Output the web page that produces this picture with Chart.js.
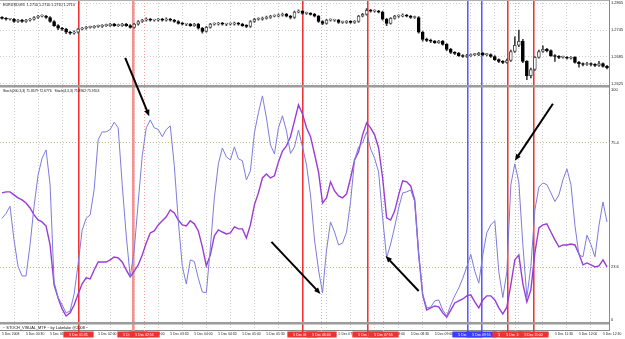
<!DOCTYPE html>
<html>
<head>
<meta charset="utf-8">
<script src="https://cdn.jsdelivr.net/npm/chart.js@4.4.1/dist/chart.umd.min.js"></script>
<style>
html, body { margin: 0; padding: 0; background: #fff; }
#wrap { width: 625px; height: 339px; }
</style>
</head>
<body>
<div id="wrap"><canvas id="eurusd-chart" width="625" height="339"></canvas></div>
<script>
// ==== EURUSD M5 candles (bar 0 = 5 Dec 00:00) ====
var opens = [1.2773,1.2771,1.2769,1.2769,1.2764,1.2767,1.2764,1.2767,1.2769,1.2773,
  1.2776,1.2776,1.2773,1.2764,1.2755,1.2749,1.2747,1.2740,1.2738,1.2740,
  1.2747,1.2749,1.2751,1.2751,1.2753,1.2753,1.2755,1.2755,1.2758,1.2755,
  1.2755,1.2758,1.2755,1.2751,1.2758,1.2764,1.2767,1.2769,1.2767,1.2767,
  1.2769,1.2767,1.2769,1.2767,1.2764,1.2760,1.2758,1.2758,1.2755,1.2758,
  1.2749,1.2742,1.2751,1.2758,1.2758,1.2760,1.2758,1.2758,1.2758,1.2760,
  1.2758,1.2755,1.2753,1.2764,1.2769,1.2769,1.2771,1.2773,1.2776,1.2776,
  1.2778,1.2780,1.2776,1.2773,1.2785,1.2787,1.2782,1.2782,1.2780,1.2776,
  1.2764,1.2760,1.2767,1.2767,1.2767,1.2762,1.2762,1.2764,1.2762,1.2764,
  1.2776,1.2780,1.2789,1.2787,1.2787,1.2785,1.2769,1.2760,1.2771,1.2776,
  1.2776,1.2778,1.2776,1.2773,1.2773,1.2740,1.2724,1.2722,1.2720,1.2717,
  1.2720,1.2713,1.2702,1.2695,1.2693,1.2688,1.2686,1.2688,1.2690,1.2690,
  1.2693,1.2690,1.2690,1.2686,1.2679,1.2675,1.2673,1.2677,1.2697,1.2711,
  1.2720,1.2675,1.2643,1.2657,1.2684,1.2697,1.2702,1.2699,1.2688,1.2686,
  1.2684,1.2684,1.2682,1.2684,1.2673,1.2670,1.2668,1.2670,1.2668,1.2666,
  1.2670,1.2664];
var closes = [1.2771,1.2769,1.2769,1.2764,1.2767,1.2764,1.2767,1.2769,1.2773,1.2776,
  1.2776,1.2773,1.2764,1.2755,1.2749,1.2747,1.2740,1.2738,1.2740,1.2747,
  1.2749,1.2751,1.2751,1.2753,1.2753,1.2755,1.2755,1.2758,1.2755,1.2755,
  1.2758,1.2755,1.2751,1.2758,1.2764,1.2767,1.2769,1.2767,1.2767,1.2769,
  1.2767,1.2769,1.2767,1.2764,1.2760,1.2758,1.2758,1.2755,1.2758,1.2749,
  1.2742,1.2751,1.2758,1.2758,1.2760,1.2758,1.2758,1.2758,1.2760,1.2758,
  1.2755,1.2753,1.2764,1.2769,1.2769,1.2771,1.2773,1.2776,1.2776,1.2778,
  1.2780,1.2776,1.2773,1.2785,1.2787,1.2782,1.2782,1.2780,1.2776,1.2764,
  1.2760,1.2767,1.2767,1.2767,1.2762,1.2762,1.2764,1.2762,1.2764,1.2776,
  1.2780,1.2789,1.2787,1.2787,1.2785,1.2769,1.2760,1.2771,1.2776,1.2776,
  1.2778,1.2776,1.2773,1.2773,1.2740,1.2724,1.2722,1.2720,1.2717,1.2720,
  1.2713,1.2702,1.2695,1.2693,1.2688,1.2686,1.2688,1.2690,1.2690,1.2693,
  1.2690,1.2690,1.2686,1.2679,1.2675,1.2673,1.2677,1.2697,1.2711,1.2720,
  1.2675,1.2643,1.2657,1.2684,1.2697,1.2702,1.2699,1.2688,1.2686,1.2684,
  1.2684,1.2682,1.2684,1.2673,1.2670,1.2668,1.2670,1.2668,1.2666,1.2670,
  1.2664,1.2661];
var highs = [1.2775,1.2773,1.2771,1.2771,1.2769,1.2769,1.2769,1.2771,1.2775,1.2778,
  1.2779,1.2778,1.2775,1.2766,1.2757,1.2751,1.2749,1.2742,1.2743,1.2749,
  1.2751,1.2753,1.2754,1.2755,1.2756,1.2757,1.2758,1.2760,1.2760,1.2758,
  1.2760,1.2760,1.2757,1.2760,1.2766,1.2769,1.2772,1.2771,1.2769,1.2771,
  1.2771,1.2772,1.2771,1.2769,1.2766,1.2762,1.2760,1.2760,1.2760,1.2760,
  1.2751,1.2753,1.2760,1.2761,1.2762,1.2762,1.2760,1.2761,1.2763,1.2762,
  1.2760,1.2757,1.2766,1.2771,1.2772,1.2774,1.2776,1.2778,1.2779,1.2781,
  1.2783,1.2782,1.2778,1.2787,1.2790,1.2789,1.2785,1.2784,1.2782,1.2778,
  1.2766,1.2769,1.2770,1.2769,1.2769,1.2765,1.2766,1.2766,1.2766,1.2778,
  1.2782,1.2793,1.2791,1.2790,1.2789,1.2787,1.2771,1.2773,1.2778,1.2779,
  1.2781,1.2780,1.2778,1.2776,1.2775,1.2742,1.2727,1.2725,1.2722,1.2722,
  1.2722,1.2715,1.2704,1.2697,1.2695,1.2690,1.2691,1.2692,1.2693,1.2695,
  1.2695,1.2693,1.2692,1.2688,1.2681,1.2677,1.2680,1.2700,1.2730,1.2745,
  1.2724,1.2677,1.2660,1.2686,1.2700,1.2710,1.2704,1.2701,1.2690,1.2688,
  1.2687,1.2686,1.2686,1.2686,1.2675,1.2672,1.2673,1.2672,1.2670,1.2675,
  1.2672,1.2666];
var lows = [1.2769,1.2767,1.2767,1.2762,1.2762,1.2762,1.2762,1.2765,1.2767,1.2771,
  1.2774,1.2771,1.2762,1.2753,1.2746,1.2744,1.2737,1.2735,1.2736,1.2738,
  1.2745,1.2747,1.2749,1.2749,1.2751,1.2751,1.2753,1.2753,1.2753,1.2753,
  1.2753,1.2753,1.2749,1.2749,1.2756,1.2762,1.2765,1.2765,1.2765,1.2765,
  1.2765,1.2765,1.2765,1.2762,1.2758,1.2756,1.2755,1.2753,1.2753,1.2747,
  1.2738,1.2740,1.2749,1.2756,1.2756,1.2756,1.2755,1.2756,1.2756,1.2756,
  1.2753,1.2750,1.2751,1.2762,1.2767,1.2767,1.2769,1.2771,1.2774,1.2774,
  1.2776,1.2774,1.2770,1.2771,1.2783,1.2780,1.2780,1.2778,1.2774,1.2762,
  1.2757,1.2758,1.2765,1.2764,1.2760,1.2760,1.2760,1.2760,1.2760,1.2762,
  1.2774,1.2778,1.2785,1.2785,1.2783,1.2767,1.2755,1.2758,1.2769,1.2773,
  1.2774,1.2774,1.2771,1.2771,1.2738,1.2720,1.2719,1.2717,1.2715,1.2715,
  1.2711,1.2699,1.2692,1.2690,1.2686,1.2684,1.2684,1.2686,1.2688,1.2688,
  1.2688,1.2687,1.2684,1.2677,1.2672,1.2670,1.2671,1.2675,1.2695,1.2708,
  1.2672,1.2634,1.2638,1.2655,1.2682,1.2695,1.2696,1.2686,1.2675,1.2681,
  1.2682,1.2680,1.2680,1.2671,1.2662,1.2665,1.2666,1.2665,1.2663,1.2664,
  1.2662,1.2658];

// ==== STOCH_VISUAL_MTF lines, one value per bar ====
var stochMain = [44,46,49,35,24,20,20,33,49,62,
  69,72.5,58,17.5,11,8,4.6,5.4,12.5,25,
  39,44,45.4,56,76.7,80,80,81,84,81.7,
  58,37,19.6,30.8,50.8,70,81.7,85,81.7,81,
  78,81,82.5,66,43,24,16.7,26.7,26,19,
  13.3,13,31.7,52.5,66.7,73.3,69.6,68.3,73.75,68.75,
  68,60,63.75,79.6,88,95,85.8,74.6,70.8,81.7,
  86.7,80.4,71,73.75,80.8,73.75,66.25,53.75,35,22.5,
  13,30.8,42.5,38.3,32.9,33.75,38.3,51,68.3,73.75,
  75.4,80,72.9,69,63.3,44.2,27.5,33.3,40.4,48.3,
  54.6,55,55.8,51,29,12.5,6.7,7,9.6,10,
  5.8,3.3,7.9,11.7,15,19,23.75,29,22,17,
  28.75,38,41.25,43,21.7,11,21.7,58,66.7,59,
  33,11,24,47.5,57,58.75,58,54.6,51,53.75,
  60,64.6,58,41,28.75,28,37,33,28,41,
  50.8,42.5];
var stochSignal = [54.6,55,55,53.75,52.5,51.7,50.4,48.3,45.4,43.3,
  42.5,40.8,32.9,16.25,10.8,6.25,3.3,4.6,7.9,12.5,
  16.7,19.2,18.75,22.5,25.8,25.8,25.8,26.7,27.9,27.5,
  25.8,22.5,19.6,22,24.6,28.75,33.75,37.9,38.75,41.25,
  43,44.6,47.5,46.25,43.3,41.25,40.8,43,41.7,38.75,
  32.1,24.2,28.75,36.7,39.2,38.3,37.5,37.9,40.4,39.6,
  39.6,35.8,41.25,49.6,54.6,60.8,62.5,60.8,61.7,67.5,
  72,74.2,78,84.6,91.25,87.5,81.7,78,70.8,63.3,
  50.4,52.5,59.2,55.4,53.3,52.5,54.2,60.8,68.3,71.7,
  78.75,83.75,81.7,78.75,73.3,60.8,44.2,43.3,47,53.75,
  59.6,59.2,57.5,51.7,29,12,5.8,6.7,7.5,7.1,
  4.6,2.9,5.8,8.75,9.6,10.4,11.7,12.1,9.2,6.7,
  10,11.7,11.7,10,6.7,4.2,7,16.25,26.7,28.75,
  16.7,9.2,14.2,29.6,40,41.25,41.7,38.3,35,32.1,
  32.9,32.9,33.3,32.9,29.2,24.6,25.4,24.6,23.75,24.2,
  26.7,23.75];

// ==== axis ticks ====
var priceTicks = [1.2805, 1.2775, 1.2745, 1.2715, 1.2685, 1.2655, 1.2625];
var stochLevels = [100, 75.4, 23.6, 0];
var stochLevelLabels = ['100', '75.4', '23.6', '0'];
var timeTickBars = [0,6,12,18,24,30,36,42,48,54,60,66,72,78,84,90,96,102,108,114,120,126,132,138,144,150];
var timeLabels = ['5 Dec 2008','5 Dec 00:30','5 Dec 01:00','5 Dec 01:30','5 Dec 02:00','5 Dec 02:30',
  '5 Dec 03:00','5 Dec 03:30','5 Dec 04:00','5 Dec 04:30','5 Dec 05:00','5 Dec 05:30',
  '5 Dec 06:00','5 Dec 06:30','5 Dec 07:00','5 Dec 07:30','5 Dec 08:00','5 Dec 08:30',
  '5 Dec 09:00','5 Dec 09:30','5 Dec 10:00','5 Dec 10:30','5 Dec 11:00','5 Dec 11:30',
  '5 Dec 12:00','5 Dec 12:30'];

// ==== vertical line objects and arrows ====
var vlineBars = [19, 32.5, 35.5, 75, 79.5, 91, 95, 116, 119.5, 126, 128, 132.5];
var vlineKinds = ['red','pink','dot','red','dot','red','dot','blue','blue','red','dot','red'];
var vlineTimes = ['5 Dec 01:35','5 Dec 02:40','5 Dec 02:55','5 Dec 06:15','5 Dec 06:40','5 Dec 07:35',
  '5 Dec 07:55','5 Dec 09:40','5 Dec 09:55','5 Dec 10:30','5 Dec 10:40','5 Dec 11:00'];
// arrows: [bar, stoch value] tail -> head
var arrowTails = [[30.75, 110.8], [67.25, 34.2], [104, 13.75], [137.5, 91.7]];
var arrowHeads = [[36.75, 86.5], [79.5, 12.5], [95.75, 28.3], [128, 68]];

var tinyFont = 'Liberation Sans, Arial, sans-serif';

var lineColors = { red: 'rgb(240,50,50)', pink: 'rgb(247,144,144)', dot: 'rgb(244,160,160)', blue: 'rgb(90,90,255)' };

function drawArrow(c, x1, y1, x2, y2) {
    var ang = Math.atan2(y2 - y1, x2 - x1), head = 7;
    c.beginPath();
    c.moveTo(x1, y1);
    c.lineTo(x2 - Math.cos(ang) * head * 0.7, y2 - Math.sin(ang) * head * 0.7);
    c.stroke();
    c.beginPath();
    c.moveTo(x2, y2);
    c.lineTo(x2 - head * Math.cos(ang - 0.4), y2 - head * Math.sin(ang - 0.4));
    c.lineTo(x2 - head * Math.cos(ang + 0.4), y2 - head * Math.sin(ang + 0.4));
    c.closePath();
    c.fill();
}

function drawObjectLines(chart) {
    var c = chart.ctx, x = chart.scales.x, area = chart.chartArea;
    var bottom = x.top + 4;
    c.save();
    vlineBars.forEach(function (b, i) {
        var kind = vlineKinds[i];
        var px = Math.round(x.getPixelForValue(b));
        c.fillStyle = lineColors[kind];
        if (kind === 'dot') {
            for (var y = area.top; y < bottom; y += 3) {
                c.fillRect(px, y, 1, 1);
            }
        } else {
            c.globalAlpha = 1;
            c.fillRect(px, area.top, kind === 'pink' ? 2 : 1, bottom - area.top);
            c.globalAlpha = 0.55;
            c.fillRect(px + (kind === 'pink' ? 2 : 1), area.top, 1, bottom - area.top);
            c.globalAlpha = 1;
        }
    });
    c.restore();
}

// ==== MT4 look: panes, objects, texts ====
var terminalPlugin = {
    id: 'terminal',
    beforeDraw: function (chart) {
        var c = chart.ctx;
        c.save();
        c.fillStyle = '#fff';
        c.fillRect(0, 0, chart.width, chart.height);
        c.restore();
    },
    beforeDatasetsDraw: function (chart) {
        drawObjectLines(chart);
    },
    afterDatasetsDraw: function (chart) {
        var c = chart.ctx, area = chart.chartArea, s = chart.scales;
        c.save();
        // pane separators
        c.fillStyle = '#9c9c9c';
        c.fillRect(area.left, s.price.bottom - 1.5, area.right - area.left, 2.5);
        c.fillRect(area.left, s.stoch.bottom - 1, area.right - area.left, 2.5);
        c.fillStyle = '#b0b0b0';
        c.fillRect(area.left, area.top, area.right - area.left, 1);
        // pane captions
        c.fillStyle = '#111';
        c.textBaseline = 'middle';
        c.font = '3.7px ' + tinyFont;
        c.fillText('EURUSD,M5  1.2710 1.2710 1.2710 1.2710', area.left + 3, s.price.top + 5);
        c.font = '3.4px ' + tinyFont;
        c.fillText('Stoch(200,3,3) 71.8579 72.6776   Stoch(4,3,3) 75.8962 75.9553', area.left + 3, s.stoch.top + 5);
        c.font = '3.9px ' + tinyFont;
        c.fillText('~ STOCH_VISUAL_MTF ~ by Lukelake @2008 ~', area.left + 3, (s.info.top + s.info.bottom) / 2 + 1);
        // arrows
        c.strokeStyle = '#000';
        c.fillStyle = '#000';
        c.lineWidth = 2;
        arrowTails.forEach(function (t, i) {
            var h = arrowHeads[i];
            drawArrow(c, s.x.getPixelForValue(t[0]), s.stoch.getPixelForValue(t[1]),
                s.x.getPixelForValue(h[0]), s.stoch.getPixelForValue(h[1]));
        });
        c.restore();
    },
    afterDraw: function (chart) {
        // object time tags on the time axis
        var c = chart.ctx, x = chart.scales.x;
        c.save();
        c.font = '3.4px ' + tinyFont;
        c.textBaseline = 'middle';
        c.textAlign = 'center';
        vlineBars.forEach(function (b, i) {
            var px = Math.round(x.getPixelForValue(b)) + 0.5;
            var w = c.measureText(vlineTimes[i]).width + 12;
            c.fillStyle = vlineKinds[i] === 'blue' ? '#3c3cff' : '#ea3434';
            c.fillRect(px - w / 2, x.top + 1.5, w, 6);
            c.fillStyle = '#fff';
            c.fillText(vlineTimes[i], px, x.top + 4.6);
        });
        c.restore();
    }
};

var wCanvas = document.getElementById('eurusd-chart').getContext('2d');

var eurusdChart = new Chart(wCanvas, {
    type: 'bar',
    data: {
        datasets: [{
            type: 'line',
            label: 'Stoch main',
            yAxisID: 'stoch',
            data: stochMain.map(function (v, i) { return { x: i, y: v }; }),
            borderColor: '#7c7cde',
            borderWidth: 1,
            pointRadius: 0,
            tension: 0,
            order: 0
        }, {
            type: 'line',
            label: 'Stoch signal',
            yAxisID: 'stoch',
            data: stochSignal.map(function (v, i) { return { x: i, y: v }; }),
            borderColor: '#9b3bd8',
            borderWidth: 1.4,
            pointRadius: 0,
            tension: 0,
            order: 0
        }, {
            label: 'Body',
            yAxisID: 'price',
            data: closes.map(function (c, i) { return { x: i, y: [opens[i], c] }; }),
            backgroundColor: function (ctx) {
                var i = ctx.dataIndex;
                return closes[i] >= opens[i] ? '#ffffff' : '#000000';
            },
            borderColor: function (ctx) {
                var i = ctx.dataIndex;
                return closes[i] >= opens[i] ? '#555555' : '#000000';
            },
            borderWidth: 1,
            borderSkipped: false,
            barThickness: 3,
            minBarLength: 1,
            grouped: false,
            order: 1
        }, {
            label: 'Wick',
            yAxisID: 'price',
            data: lows.map(function (l, i) { return { x: i, y: [l, highs[i]] }; }),
            backgroundColor: '#404040',
            borderWidth: 0,
            barThickness: 1,
            grouped: false,
            order: 2
        }]
    },
    options: {
        responsive: false,
        animation: false,
        events: [],
        layout: { padding: 0 },
        plugins: { legend: { display: false }, tooltip: { enabled: false } },
        scales: {
            price: {
                axis: 'y',
                type: 'linear',
                position: 'right',
                stack: 'panes',
                stackWeight: 86.5,
                min: 1.2619,
                max: 1.2812,
                grid: { color: '#cdcdcd', drawTicks: false },
                border: { display: true, color: '#8a8a8a', dash: [1, 2] },
                afterBuildTicks: function (scale) {
                    scale.ticks = priceTicks.map(function (v) { return { value: v }; });
                },
                afterFit: function (scale) { scale.width = 16; scale.paddingTop = 0; scale.paddingBottom = 0; },
                ticks: {
                    padding: 2,
                    font: { size: 4, family: tinyFont },
                    color: function (ctx) { return ctx.index === 3 ? '#ffffff' : '#222'; },
                    showLabelBackdrop: function (ctx) { return ctx.index === 3; },
                    backdropColor: '#000',
                    backdropPadding: 1,
                    callback: function (v) { return v.toFixed(4); }
                }
            },
            stoch: {
                axis: 'y',
                type: 'linear',
                position: 'right',
                stack: 'panes',
                stackWeight: 236.5,
                min: 0.4,
                max: 98.9,
                grid: {
                    color: function (ctx) { return (ctx.index === 1 || ctx.index === 2) ? '#bcbc78' : 'rgba(0,0,0,0)'; },
                    drawTicks: false
                },
                border: { display: true, color: '#8a8a8a', dash: [1, 2] },
                afterBuildTicks: function (scale) {
                    scale.ticks = stochLevels.map(function (v) {
                        return { value: Math.min(Math.max(v, scale.min + 1.2), scale.max - 1.4) };
                    });
                },
                afterFit: function (scale) { scale.width = 16; scale.paddingTop = 0; scale.paddingBottom = 0; },
                ticks: {
                    padding: 2,
                    font: { size: 4, family: tinyFont },
                    color: '#222',
                    callback: function (v, i) { return stochLevelLabels[i]; }
                }
            },
            info: {
                axis: 'y',
                type: 'linear',
                position: 'right',
                stack: 'panes',
                stackWeight: 7,
                min: 0,
                max: 1,
                grid: { display: false },
                border: { display: true, color: '#8a8a8a' },
                ticks: { display: false },
                afterFit: function (scale) { scale.width = 16; scale.paddingTop = 0; scale.paddingBottom = 0; }
            },
            x: {
                type: 'linear',
                position: 'bottom',
                min: -0.5,
                max: 151.5,
                offset: false,
                grid: { color: '#cdcdcd', drawTicks: false },
                border: { display: true, color: '#8a8a8a', dash: [1, 2] },
                afterBuildTicks: function (scale) {
                    scale.ticks = timeTickBars.map(function (v) { return { value: v }; });
                },
                afterFit: function (scale) { scale.height = 9; scale.paddingLeft = 0; scale.paddingRight = 0; },
                ticks: {
                    autoSkip: false,
                    maxRotation: 0,
                    align: 'start',
                    padding: 2,
                    font: { size: 3.4, family: tinyFont },
                    color: '#222',
                    callback: function (v, i) { return timeLabels[i]; }
                }
            }
        }
    },
    plugins: [terminalPlugin]
});
</script>
</body>
</html>
